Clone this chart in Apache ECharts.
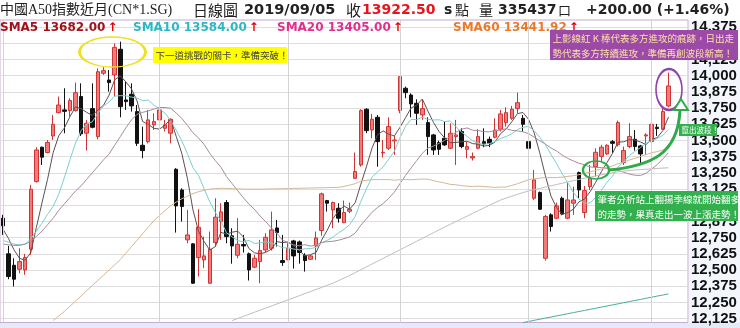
<!DOCTYPE html>
<html><head><meta charset="utf-8">
<script src="https://cdn.jsdelivr.net/npm/echarts/dist/echarts.min.js"></script>
<style>html,body{margin:0;padding:0;background:#fff}#c{width:740px;height:328px}</style>
</head><body><div id="c"></div>
<script>
// ---- data ----
const opens = [12900,12625,12537,12506,12501,12661,13183,13448,13407,13535,
13715,13736,13731,13731,13839,13556,13746,13530,14019,13967,
14006,14204,13813,13857,13723,13463,13491,13620,13659,13594,
13556,13278,13118,12733,12702,12596,12578,12398,12712,12874,
13021,12764,12614,12697,12625,12522,12565,12655,12668,12825,
12573,12578,12725,12717,12614,12583,12686,12805,13036,12964,
12977,12866,12954,13208,13311,13741,13581,13679,13404,13440,
13497,13731,13903,13851,13787,13697,13638,13543,13484,13517,
13440,13530,13569,13432,13365,13440,13491,13509,13525,13587,
13638,13671,13746,13671,13491,13054,13098,12591,12926,12900,
13054,12900,13016,13252,12944,13144,13298,13376,13396,13491,
13466,13329,13453,13509,13458,13535,13491,13602,13587,13767];
const closes = [12841,12450,12429,12565,12596,13124,13427,13371,13484,13625,
13774,13725,13808,13869,13551,13633,13602,14031,14039,13947,
14219,13761,13800,13767,13478,13422,13659,13646,13736,13620,
13664,12995,12990,12771,12398,12830,12609,12661,12908,12949,
12758,12686,12699,12686,12501,12591,12650,12753,12810,12789,
12558,12668,12609,12635,12573,12609,12748,13088,13016,13021,
12900,12944,12969,13260,13731,13576,13664,13491,13409,13607,
13504,13993,13869,13782,13710,13746,13530,13427,13432,13466,
13556,13543,13453,13453,13376,13530,13473,13478,13581,13705,
13715,13741,13792,13625,13440,13196,12969,12913,12836,12995,
12933,13041,13041,13118,13113,13208,13409,13448,13463,13478,
13638,13422,13530,13453,13396,13543,13625,13592,13723,13921];
const lows = [12771,12429,12373,12475,12463,12617,13175,13311,13401,13504,
13710,13556,13684,13723,13535,13422,13594,13509,14006,13877,
13839,13679,13736,13723,13458,13363,13478,13581,13646,13569,
13478,12789,12874,12707,12393,12450,12514,12393,12681,12733,
12707,12549,12591,12635,12419,12514,12398,12635,12650,12681,
12532,12578,12511,12549,12488,12578,12578,12764,12951,12823,
12866,12861,12939,13203,13298,13556,13517,13298,13368,13427,
13389,13710,13826,13679,13620,13659,13389,13389,13389,13458,
13432,13311,13440,13363,13345,13432,13448,13448,13517,13569,
13607,13659,13710,13569,13396,13041,12964,12573,12797,12892,
12923,12892,12926,13054,12900,13118,13221,13337,13389,13401,
13453,13311,13440,13422,13319,13389,13484,13535,13581,13756];
const highs = [12926,12686,12591,12668,12625,13157,13448,13453,13504,13697,
13839,13903,13826,13947,13941,13659,13941,14057,14065,14044,
14250,14263,13954,13941,13774,13607,13736,13710,13756,13659,
13671,13286,13131,12964,12707,12969,12758,12797,13054,13016,
13041,12823,12900,12771,12635,12617,12733,12784,12951,12887,
12771,12707,12733,12728,12630,12617,12797,13098,13041,13028,
13016,13036,13021,13407,13741,13749,13705,13697,13504,13679,
13535,13993,13916,13864,13818,13818,13679,13551,13499,13646,
13633,13659,13594,13491,13407,13587,13594,13530,13671,13736,
13756,13767,13869,13697,13581,13273,13106,12926,12938,13021,
13067,13175,13144,13260,13149,13311,13440,13466,13471,13504,
13653,13453,13633,13581,13466,13556,13638,13628,13749,14024];
const sma5 = [12818,12745,12656,12590,12576,12633,12828,13017,13200,13406,
13536,13596,13683,13760,13745,13717,13693,13737,13771,13850,
13968,13999,13953,13899,13805,13646,13625,13594,13588,13617,
13665,13532,13401,13208,12964,12797,12720,12654,12681,12791,
12777,12792,12800,12756,12666,12633,12625,12636,12661,12719,
12712,12716,12687,12652,12609,12619,12635,12731,12807,12896,
12955,12994,12970,13019,13161,13296,13440,13544,13574,13549,
13535,13601,13676,13751,13772,13820,13727,13639,13569,13520,
13482,13485,13490,13494,13476,13471,13457,13462,13488,13553,
13590,13644,13707,13716,13663,13559,13404,13229,13071,12982,
12929,12944,12969,13026,13049,13104,13178,13259,13328,13401,
13487,13490,13506,13504,13488,13469,13509,13522,13576,13681];
const sma10 = [12730,12715,12700,12695,12700,12740,12800,12860,12930,12991,
13085,13212,13350,13480,13576,13627,13644,13710,13766,13798,
13842,13846,13845,13835,13828,13807,13812,13774,13744,13711,
13655,13579,13498,13398,13290,13231,13126,13027,12945,12878,
12787,12756,12727,12718,12729,12705,12709,12718,12708,12692,
12672,12671,12662,12656,12664,12665,12675,12709,12729,12753,
12787,12814,12850,12913,13029,13125,13217,13257,13297,13355,
13416,13520,13610,13663,13661,13678,13664,13658,13660,13646,
13651,13606,13565,13532,13498,13477,13471,13476,13491,13515,
13531,13551,13584,13602,13608,13575,13524,13468,13393,13322,
13244,13174,13099,13048,13016,13017,13061,13114,13177,13225,
13296,13334,13383,13416,13445,13478,13500,13514,13540,13584];
const sma20 = [12700,12695,12690,12690,12700,12720,12760,12800,12850,12900,
12960,13010,13060,13110,13150,13200,13250,13300,13350,13395,
13463,13529,13598,13658,13702,13717,13728,13742,13755,13754,
13749,13712,13671,13617,13559,13519,13469,13401,13344,13294,
13221,13167,13112,13058,13009,12968,12917,12873,12826,12785,
12730,12713,12694,12687,12696,12685,12692,12713,12719,12722,
12730,12742,12756,12785,12846,12895,12946,12983,13013,13054,
13101,13167,13230,13288,13345,13401,13441,13457,13478,13501,
13533,13563,13587,13597,13579,13577,13568,13567,13575,13580,
13591,13578,13574,13567,13553,13526,13498,13472,13442,13419,
13387,13362,13342,13325,13312,13296,13292,13291,13285,13274,
13270,13254,13241,13232,13230,13247,13280,13314,13358,13405];
const sma60 = [null,null,null,null,null,null,null,null,null,12110,
12145,12180,12220,12260,12300,12340,12380,12420,12460,12500,
12540,12580,12630,12680,12730,12780,12830,12880,12920,12960,
12995,13025,13050,13070,13090,13105,13115,13125,13128,13131,
13130,13128,13126,13125,13124,13124,13124,13125,13126,13127,
13128,13129,13130,13131,13132,13133,13134,13135,13136,13137,
13138,13146,13155,13167,13186,13193,13197,13199,13198,13198,
13193,13198,13199,13197,13200,13202,13201,13190,13180,13172,
13161,13158,13152,13147,13145,13147,13144,13141,13138,13140,
13141,13153,13166,13181,13198,13204,13210,13214,13213,13214,
13217,13223,13228,13236,13246,13256,13269,13280,13291,13303,
13321,13333,13349,13362,13376,13391,13406,13414,13426,13441];
const sma120 = Array(41).fill(null).concat([12110,12126,12142,12158,12174,12190,12206,12222,12238,
12254,12270,12286,12302,12318,12334,12350,12366,12382,12398,
12418,12438,12458,12480,12502,12524,12546,12568,12590,12612,
12634,12656,12678,12700,12722,12744,12766,12788,12810,12832,
12853,12874,12895,12916,12937,12958,12979,13000,13020,13040,
13056,13070,13084,13098,13110,13120,13130,13140,13150,13160,
13170,13180,13190,13199,13208,13217,13226,13235,13243,13251,
13259,13264,13268,13272,13275,13278,13281,13284,13287,13289]);
const sma240 = Array(93).fill(null).concat([12095,12103,12112,12120,12129,12137,12146,
12154,12163,12171,12180,12188,12197,12205,12214,12222,12231,
12239,12248,12256,12265,12273,12282,12290,12299,12307,12316]);
const tickValues = [12125,12250,12375,12500,12625,12750,12875,13000,13125,13250,13375,13500,13625,13750,13875,14000,14125,14250,14375];
const monthStarts = [0,28,51,71,94,116];
const slotCount = 123;
const categories = Array.from({length: slotCount}, (_, i) => String(i + 1));

const candleData = opens.map((o, i) => [o, closes[i], lows[i], highs[i]]);

const chart = echarts.init(document.getElementById('c'), null, {renderer: 'canvas'});
const CJK = "'Noto Sans CJK TC', 'Noto Sans CJK SC', sans-serif";
const HEAD = "'Liberation Serif', 'Noto Sans CJK TC', serif";
const BOLD = "'DejaVu Sans', 'Noto Sans CJK TC', sans-serif";

function txt(x, y, text, font, fill, extra) {
  return Object.assign({type: 'text', x: x, y: y, z: 50,
    style: {text: text, font: font, fill: fill, textVerticalAlign: 'middle'}}, extra || {});
}
function smaLabel(x, name, val, color) {
  return {type: 'text', x: x, y: 28, z: 50, style: {
    text: '{a|' + name + ' ' + val + '}{r|↑}', textVerticalAlign: 'middle',
    rich: {a: {font: "bold 12px 'DejaVu Sans'", fill: color},
           r: {font: "bold 12px 'DejaVu Sans'", fill: '#e60000', padding: [0, 0, 0, 2]}}}};
}
function ellipse(cx, cy, rx, ry, color) {
  return {type: 'circle', x: cx, y: cy, scaleX: rx, scaleY: ry, z: 60,
    shape: {cx: 0, cy: 0, r: 1},
    style: {fill: 'none', stroke: color, lineWidth: 2, strokeNoScale: true}};
}
function box(x, y, w, h, fill, lines, color, size, lh) {
  const children = [{type: 'rect', shape: {x: x, y: y, width: w, height: h}, style: {fill: fill}, z: 70}];
  lines.forEach((t, i) => children.push({type: 'text', z: 71, x: x + 2.5, y: y + lh / 2 + 0.5 + i * lh,
    style: {text: t, font: size + 'px ' + CJK, fill: color, textVerticalAlign: 'middle'}}));
  return {type: 'group', children: children};
}

const lineSeries = (name, data, color) => ({
  name: name, type: 'line', data: data, showSymbol: false, symbol: 'none',
  connectNulls: false, lineStyle: {color: color, width: 1}, z: 3, silent: true, animation: false
});

chart.setOption({
  animation: false,
  backgroundColor: '#ffffff',
  grid: {left: 0, right: 52, top: 20, bottom: 5.5, show: true, borderColor: '#c6a9d4', borderWidth: 1, backgroundColor: '#fff'},
  xAxis: {type: 'category', data: categories, boundaryGap: true,
    axisLine: {show: false}, axisTick: {show: false}, axisLabel: {show: false}, splitLine: {show: false}},
  yAxis: {type: 'value', position: 'right', min: 12095, max: 14430, scale: true,
    axisLine: {show: false},
    axisTick: {show: false, customValues: tickValues},
    axisLabel: {customValues: tickValues, color: '#111', fontWeight: 'bold', fontSize: 15,
      fontFamily: "'Liberation Sans', Arial, sans-serif", margin: 3},
    splitLine: {show: true, lineStyle: {color: '#dedede', width: 1}}},
  series: [
    {type: 'candlestick', data: candleData, barWidth: 4, z: 2,
      itemStyle: {color: '#f47a7a', color0: '#111111', borderColor: '#cf3535', borderColor0: '#111111', borderWidth: 1},
      markLine: {silent: true, symbol: 'none', label: {show: false},
        lineStyle: {color: '#d4d4d4', type: 'solid', width: 1},
        data: monthStarts.map(i => ({xAxis: i}))}},
    lineSeries('SMA5', sma5, '#5e5050'),
    lineSeries('SMA10', sma10, '#78d0d0'),
    lineSeries('SMA20', sma20, '#a88aa2'),
    lineSeries('SMA60', sma60, '#d5b796'),
    lineSeries('SMA120', sma120, '#c4bcbc'),
    lineSeries('SMA240', sma240, '#48ad9b')
  ],
  graphic: [
    {type: 'rect', z: -5, shape: {x: 689, y: 20, width: 51, height: 308}, style: {fill: '#f3f7fd'}},
    {type: 'rect', z: -5, shape: {x: 0, y: 323, width: 740, height: 5}, style: {fill: '#e3ebf8'}},
    txt(0, 10, '中國A50指數近月(CN*1.SG)', '14px ' + HEAD, '#222'),
    txt(193, 10, '日線圖', '15px ' + CJK, '#222'),
    txt(244, 10, '2019/09/05', 'bold 14.5px ' + BOLD, '#222'),
    txt(346, 10, '收', '15px ' + CJK, '#222'),
    txt(362, 10, '13922.50', 'bold 14px ' + BOLD, '#e8141c'),
    txt(444, 10, 's', 'bold 14px ' + BOLD, '#222'),
    txt(455, 10, '點', '14px ' + CJK, '#222'),
    txt(479, 10, '量', '14px ' + CJK, '#222'),
    txt(498, 10, '335437', 'bold 14px ' + BOLD, '#222'),
    txt(558, 10, '口', '13px ' + CJK, '#222'),
    txt(586, 10, '+200.00 (+1.46%)', 'bold 14px ' + BOLD, '#222'),
    smaLabel(0, 'SMA5', '13682.00', '#a3121a'),
    smaLabel(133, 'SMA10', '13584.00', '#2db8c4'),
    smaLabel(277, 'SMA20', '13405.00', '#e0308c'),
    smaLabel(453, 'SMA60', '13441.92', '#ea7a2c'),
    ellipse(112.5, 52, 33, 15, '#f0e01e'),
    box(153, 47, 134, 16, '#ffff00', ['下一道挑戰的關卡，準備突破！'], '#444', 9.5, 16),
    box(550, 30, 188, 30, '#9c4aa8', ['上影線紅 K 棒代表多方進攻的痕跡，日出走', '勢代表多方持續進攻，準備再創波段新高！'], '#fbe2a4', 9.5, 15),
    ellipse(669, 89.5, 13, 20.5, '#8e44ad'),
    ellipse(596, 170, 13, 9, '#2eaa4a'),
    {type: 'bezierCurve', z: 60, shape: {x1: 609, y1: 170, cpx1: 650, cpy1: 166, cpx2: 678, cpy2: 155, x2: 680, y2: 110},
      style: {stroke: '#2eaa4a', lineWidth: 3, fill: 'none'}},
    {type: 'polygon', z: 61, shape: {points: [[681, 99], [674, 110], [688, 110]]},
      style: {fill: '#ffffff', stroke: '#2eaa4a', lineWidth: 2}},
    box(679, 124, 38, 12, '#33b04e', ['竄出波段！'], '#fff', 7.5, 12),
    box(595, 191, 143, 30, '#33b04e', ['筆者分析站上翻揚季線就開始翻多', '的走勢，果真走出一波上漲走勢！'], '#fff', 9.5, 15)
  ]
});
</script>
</body></html>
